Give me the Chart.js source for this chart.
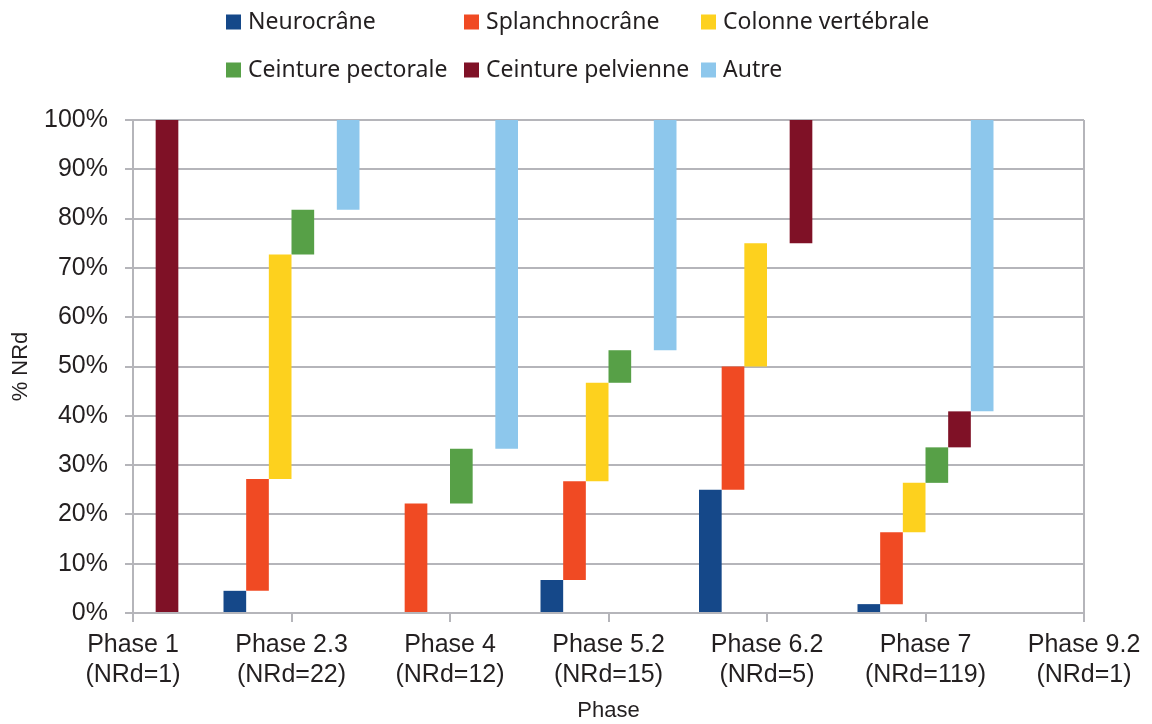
<!DOCTYPE html>
<html>
<head>
<meta charset="utf-8">
<script src="https://cdn.jsdelivr.net/npm/chart.js@4"></script>
<style>
html, body { margin: 0; padding: 0; background: #fff; }
</style>
</head>
<body>
<canvas id="phaseChart" width="1152" height="724"></canvas>
<script>
// categories (two-line labels)
const phases = [
    ['Phase 1', '(NRd=1)'],
    ['Phase 2.3', '(NRd=22)'],
    ['Phase 4', '(NRd=12)'],
    ['Phase 5.2', '(NRd=15)'],
    ['Phase 6.2', '(NRd=5)'],
    ['Phase 7', '(NRd=119)'],
    ['Phase 9.2', '(NRd=1)']
];

// share of each region per phase, in %
const neurocrane     = [0,   4.5,  0,    6.7,  25, 1.8,  0];
const splanchnocrane = [0,   22.7, 22.2, 20,   25, 14.6, 0];
const colonne        = [0,   45.5, 0,    20,   25, 10,   0];
const pectorale      = [0,   9.1,  11.1, 6.6,  0,  7.2,  0];
const pelvienne      = [100, 0,    0,    0,    25, 7.3,  0];
const autre          = [0,   18.2, 66.7, 46.7, 0,  59.1, 0];

const seriesNames = ['Neurocrâne', 'Splanchnocrâne', 'Colonne vertébrale',
                     'Ceinture pectorale', 'Ceinture pelvienne', 'Autre'];
const seriesValues = [neurocrane, splanchnocrane, colonne, pectorale, pelvienne, autre];
const seriesColors = ['#154889', '#f04a23', '#fdd11e', '#57a047', '#7f1126', '#8dc7ec'];

const yTicks = [0, 10, 20, 30, 40, 50, 60, 70, 80, 90, 100];

const gridColor = '#b5b5ba';
const textColor = '#231f20';
const axisFont = 'Liberation Sans, Arial, sans-serif';

// each bar floats from the running total of the previous series
const running = phases.map(() => 0);
const datasets = seriesValues.map((vals, s) => {
    const data = vals.map((v, i) => {
        const start = running[i];
        running[i] += v;
        return v > 0 ? [start, running[i]] : null;
    });
    return {
        label: seriesNames[s],
        data: data,
        backgroundColor: seriesColors[s],
        borderWidth: 0,
        categoryPercentage: 0.858,
        barPercentage: 1
    };
});

// legend laid out in aligned columns, two rows
const legendCols = [226, 464, 701];
const legendRows = [22, 70];
const gridLegend = {
    id: 'gridLegend',
    afterDraw(chart) {
        const ctx = chart.ctx;
        ctx.save();
        ctx.font = '23px "Noto Sans"';
        ctx.textBaseline = 'middle';
        chart.data.datasets.forEach((ds, i) => {
            const x = legendCols[i % 3];
            const y = legendRows[Math.floor(i / 3)];
            ctx.fillStyle = ds.backgroundColor;
            ctx.fillRect(x, y - 7.5, 15, 15);
            ctx.fillStyle = textColor;
            ctx.fillText(ds.label, x + 22, y);
        });
        ctx.restore();
    }
};

const ctx = document.getElementById('phaseChart').getContext('2d');
new Chart(ctx, {
    type: 'bar',
    data: {
        labels: phases,
        datasets: datasets
    },
    options: {
        responsive: false,
        animation: false,
        layout: {
            padding: { top: 120, right: 68, left: 0, bottom: 0 }
        },
        plugins: {
            legend: { display: false },
            tooltip: { enabled: false }
        },
        scales: {
            x: {
                offset: false,
                grid: {
                    offset: false,
                    color: c => c.index === phases.length - 1 ? gridColor : 'transparent',
                    tickColor: gridColor,
                    lineWidth: 2,
                    tickLength: 9
                },
                border: { color: gridColor, width: 2 },
                ticks: {
                    font: { family: axisFont, size: 25 },
                    color: textColor,
                    padding: 8,
                    maxRotation: 0,
                    autoSkip: false
                },
                title: {
                    display: true,
                    text: 'Phase',
                    font: { family: axisFont, size: 22 },
                    color: textColor,
                    padding: 0
                },
                afterFit: s => { s.height = 111; }
            },
            y: {
                min: 0,
                max: 100,
                afterBuildTicks: s => { s.ticks = yTicks.map(v => ({ value: v })); },
                ticks: {
                    callback: v => v + '%',
                    font: { family: axisFont, size: 25 },
                    color: textColor,
                    padding: 17
                },
                grid: { color: gridColor, lineWidth: 2, tickLength: 8 },
                border: { color: gridColor, width: 2 },
                title: {
                    display: true,
                    text: '% NRd',
                    font: { family: axisFont, size: 22 },
                    color: textColor,
                    padding: { top: 8, bottom: 0 }
                },
                afterFit: s => { s.width = 133; }
            }
        }
    },
    plugins: [gridLegend]
});
</script>
</body>
</html>
